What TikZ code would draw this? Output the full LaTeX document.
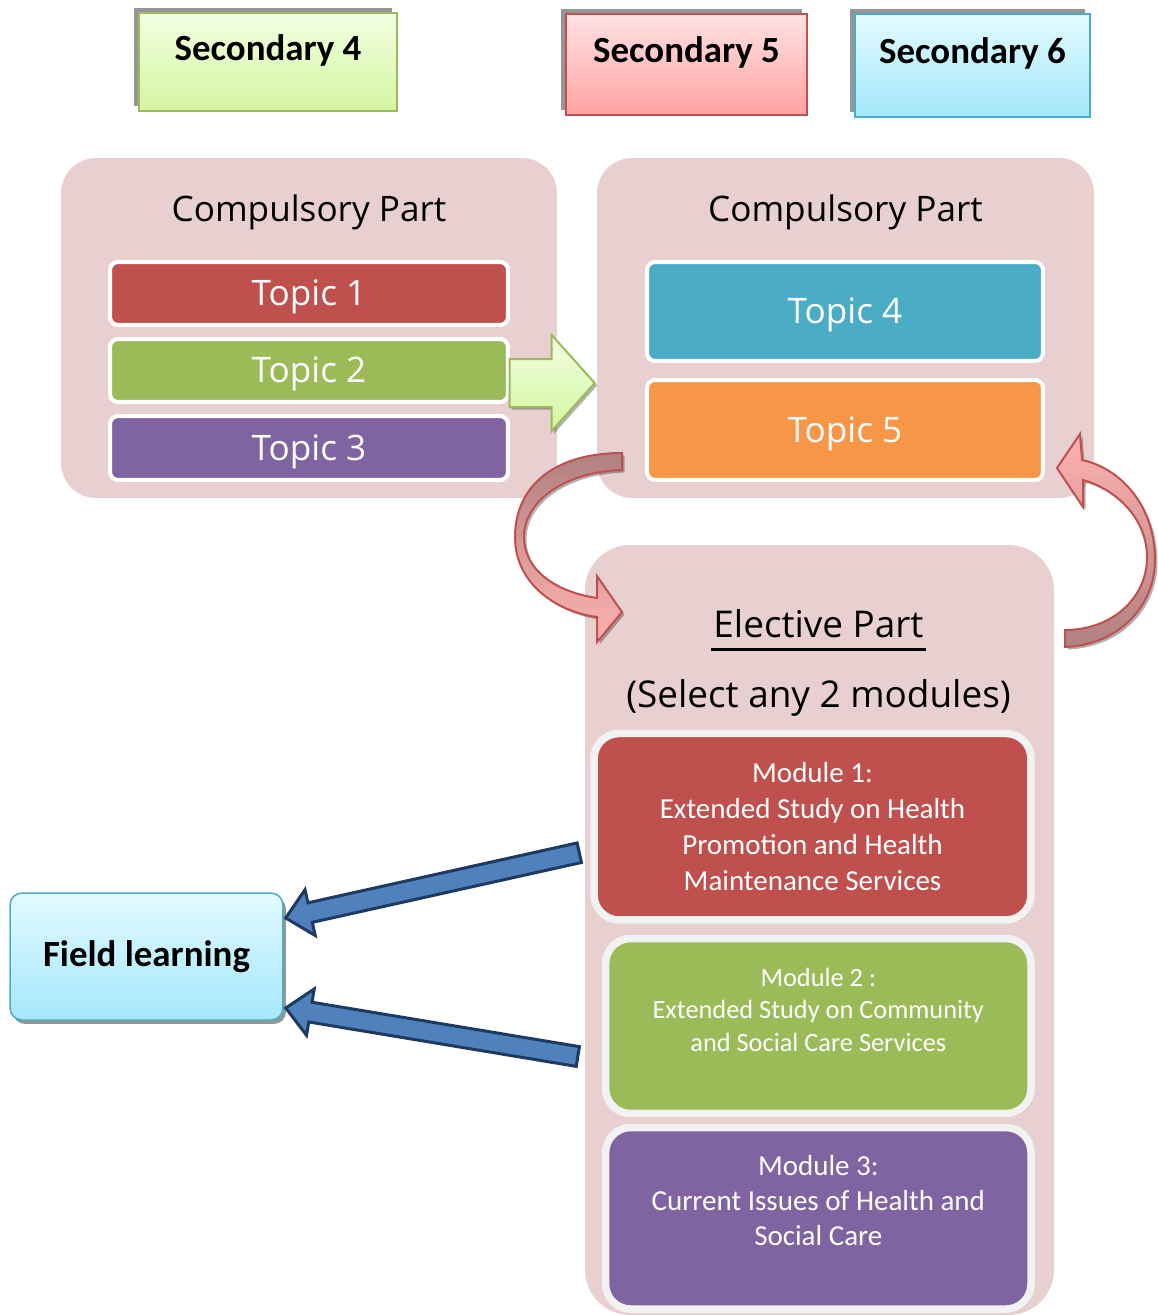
\documentclass[tikz,border=0pt]{standalone}
\usepackage{fontspec}
\setmainfont{Carlito}
\newfontfamily\segoe{Open Sans}
\usetikzlibrary{calc,shadows}
\definecolor{panel}{HTML}{E8D0D1}
\definecolor{redT}{HTML}{C0504D}
\definecolor{greenT}{HTML}{9BBB59}
\definecolor{purpleT}{HTML}{8064A2}
\definecolor{aquaT}{HTML}{4BACC6}
\definecolor{orangeT}{HTML}{F79646}
\definecolor{limeTop}{HTML}{F2FFE2}
\definecolor{limeBot}{HTML}{D4F5A0}
\definecolor{roseTop}{HTML}{FFE2E2}
\definecolor{roseBot}{HTML}{FFA3A3}
\definecolor{skyTop}{HTML}{E3FAFF}
\definecolor{skyBot}{HTML}{A3E8FB}
\definecolor{ribbonDark}{HTML}{B08080}
\definecolor{ribbonLight}{HTML}{FFB2B2}
\definecolor{steel}{HTML}{4F81BD}
\definecolor{navy}{HTML}{1F3A60}
\definecolor{shade}{HTML}{969696}
\definecolor{rim}{HTML}{F2F2F2}

\begin{document}
\begin{tikzpicture}[x=0.02cm,y=-0.02cm,
  panelbox/.style={fill=panel,rounded corners=0.7cm,inner sep=0},
  topicbox/.style={draw=white,line width=0.08cm,rounded corners=0.16cm,text=white,
    font=\segoe\fontsize{20}{24}\selectfont,inner sep=0,text height=0.65cm,text depth=0.17cm},
  parttitle/.style={font=\segoe\fontsize{20}{24}\selectfont,inner sep=0,anchor=base},
  yearbox/.style={line width=0.03cm,inner sep=0,
    drop shadow={shadow xshift=-0.1cm,shadow yshift=0.1cm,fill=shade,opacity=1}},
  yeartext/.style={font=\bfseries\fontsize{21}{25}\selectfont,yshift=0.24cm},
  modbox/.style={draw=rim,line width=0.15cm,rounded corners=0.5cm,text=white,
    align=center,inner sep=0,
    drop shadow={shadow xshift=0.05cm,shadow yshift=-0.06cm,fill=black,opacity=0.35}},
  ribbon/.style={draw=redT,line width=0.04cm,line join=miter,
    drop shadow={shadow xshift=0.05cm,shadow yshift=-0.05cm,fill=black,opacity=0.3}},
  fieldarrow/.style={fill=steel,draw=navy,line width=0.06cm}]
  \useasboundingbox (0,0) rectangle (1157,1315);

  % school years
  \node[yearbox,draw=greenT,top color=limeTop,bottom color=limeBot,
    minimum width=5.16cm,minimum height=1.96cm,
    label={[yeartext]center:Secondary 4}] (sec4) at (268,62) {};
  \node[yearbox,draw=redT,top color=roseTop,bottom color=roseBot,
    minimum width=4.82cm,minimum height=2.02cm,
    label={[yeartext]center:Secondary 5}] (sec5) at (686.5,64.5) {};
  \node[yearbox,draw=aquaT,top color=skyTop,bottom color=skyBot,
    minimum width=4.7cm,minimum height=2.06cm,
    label={[yeartext]center:Secondary 6}] (sec6) at (972.5,65.5) {};

  % compulsory part
  \node[panelbox,minimum width=9.92cm,minimum height=6.8cm] (cp1) at (309,328) {};
  \node[panelbox,minimum width=9.94cm,minimum height=6.8cm] (cp2) at (845.5,328) {};
  \node[parttitle] at ($(cp1.north)+(0,64)$) {Compulsory Part};
  \node[parttitle] at ($(cp2.north)+(0,64)$) {Compulsory Part};
  \node[topicbox,fill=redT,minimum width=7.96cm,minimum height=1.26cm] (t1) at (309,293.5) {Topic 1};
  \node[topicbox,fill=greenT,minimum width=7.96cm,minimum height=1.26cm] (t2) at (309,370.5) {Topic 2};
  \node[topicbox,fill=purpleT,minimum width=7.96cm,minimum height=1.28cm] (t3) at (309,448) {Topic 3};
  \node[topicbox,fill=aquaT,minimum width=7.92cm,minimum height=1.98cm] (t4) at (845,311.5) {Topic 4};
  \node[topicbox,fill=orangeT,minimum width=7.92cm,minimum height=2cm] (t5) at (845,430) {Topic 5};

  % elective part
  \node[panelbox,rounded corners=0.9cm,minimum width=9.38cm,minimum height=15.4cm] (elec) at (819.5,930) {};
  \node[parttitle,font=\segoe\fontsize{21}{25}\selectfont] (ep) at (818.5,637) {Elective Part};
  \draw[line width=0.05cm] ([xshift=-0.04cm,yshift=-0.25cm]ep.base west) -- ([xshift=0.04cm,yshift=-0.25cm]ep.base east);
  \node[parttitle,font=\segoe\fontsize{21}{25}\selectfont] (sel) at (818.5,707) {(Select any 2 modules)};
  \node[modbox,fill=redT,minimum width=8.74cm,minimum height=3.73cm,
    font=\fontsize{16.5}{20.4}\selectfont] (mod1) at (812.5,826.7)
    {Module 1:\\Extended Study on Health\\Promotion and Health\\Maintenance Services};
  \node[modbox,fill=greenT,minimum width=8.51cm,minimum height=3.5cm,
    font=\fontsize{15}{18.4}\selectfont] (mod2) at (818.3,1026)
    {Module 2 :\\Extended Study on Community\\and Social Care Services\\\mbox{}};
  \node[modbox,fill=purpleT,minimum width=8.51cm,minimum height=3.63cm,
    font=\fontsize{16.5}{20}\selectfont] (mod3) at (818.3,1218.3)
    {Module 3:\\Current Issues of Health and\\Social Care\\\mbox{}};

  % field learning
  \node[draw=aquaT,line width=0.03cm,top color=skyTop,bottom color=skyBot,
    rounded corners=0.24cm,minimum width=5.46cm,minimum height=2.54cm,
    font=\bfseries\fontsize{21}{25}\selectfont,
    drop shadow={shadow xshift=0.06cm,shadow yshift=-0.08cm,fill=shade,opacity=1}]
    (field) at (146.5,956.5) {Field learning};

  % green arrow S4 -> S5
  \coordinate (gtip) at ($(cp2.west)+(-2,55)$);
  \draw[draw=greenT,line width=0.04cm,top color=limeTop,bottom color=limeBot,
    drop shadow={shadow xshift=0.05cm,shadow yshift=-0.05cm,fill=black,opacity=0.3}]
    ($(gtip)+(-85,-24)$) -- ++(42,0) -- ++(0,-24) -- (gtip)
    -- ($(gtip)+(-43,48)$) -- ++(0,-24) -- ++(-42,0) -- cycle;

  % curved arrows between compulsory and elective
  \draw[ribbon,top color=ribbonDark,bottom color=ribbonLight]
    (622,453) .. controls (552,453) and (515,488) .. (515,537)
    .. controls (515,585) and (558,612) .. (597,617)
    -- (597,642) -- (622,612) -- (597,576) -- (597,598)
    .. controls (556,592) and (524,570) .. (524,537)
    .. controls (524,502) and (563,472) .. (622,470) -- cycle;
  \draw[ribbon,top color=ribbonLight,bottom color=ribbonDark]
    (1065,647) .. controls (1120,645) and (1155,605) .. (1155,560)
    .. controls (1155,505) and (1120,468) .. (1082,460)
    -- (1080,434) -- (1057,468) -- (1083,507) -- (1083,480)
    .. controls (1118,490) and (1147,520) .. (1147,557)
    .. controls (1147,600) and (1110,630) .. (1065,630) -- cycle;

  % arrows to field learning
  \coordinate (fl1s) at ($(mod1.west)+(-11,26)$);
  \coordinate (fl1e) at ($(field.east)+(2,-38.5)$);
  \coordinate (fl2s) at ($(mod2.west)+(-24,30.5)$);
  \coordinate (fl2e) at ($(field.east)+(2,51.5)$);
  \foreach \s/\e in {fl1s/fl1e,fl2s/fl2e}{
    \coordinate (hb) at ($(\e)!0.5cm!(\s)$);
    \draw[fieldarrow] ($(\s)!0.2cm!90:(\e)$) -- ($(hb)!0.2cm!90:(\e)$)
      -- ($(hb)!0.47cm!90:(\e)$) -- (\e) -- ($(hb)!0.47cm!-90:(\e)$)
      -- ($(hb)!0.2cm!-90:(\e)$) -- ($(\s)!0.2cm!-90:(\e)$) -- cycle;
  }
\end{tikzpicture}
\end{document}
